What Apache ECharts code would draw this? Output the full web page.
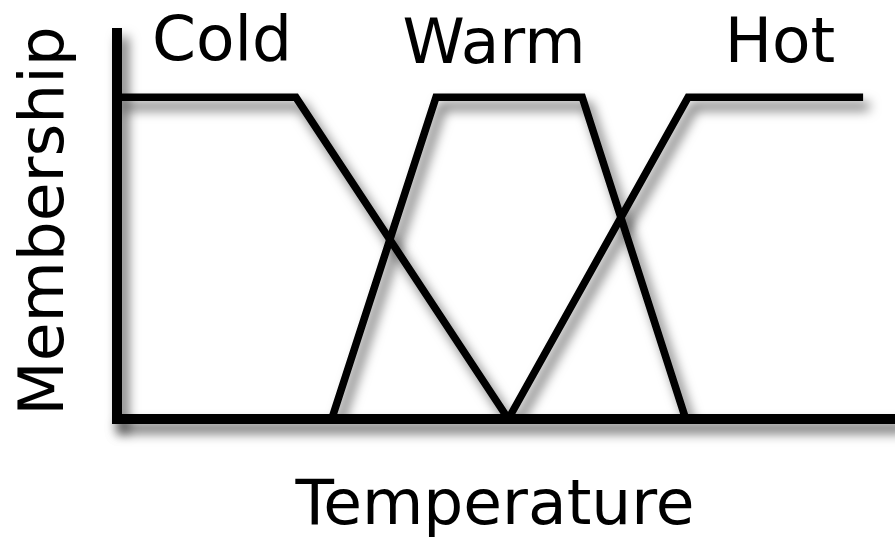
<!DOCTYPE html>
<html>
<head>
<meta charset="utf-8">
<title>Fuzzy temperature membership</title>
<script src="https://cdn.jsdelivr.net/npm/echarts@6/dist/echarts.min.js"></script>
<style>
  html, body { margin: 0; padding: 0; background: #fff; }
  #chart { width: 895px; height: 538px; }
</style>
</head>
<body>
<div id="chart"></div>
<script>
// membership functions, [temperature, membership]
const coldPoints = [[0, 1], [23, 1], [50.3, 0]]
const warmPoints = [[27.6, 0], [41, 1], [59.8, 1], [73.1, 0]]
const hotPoints = [[50.3, 0], [73.4, 1], [95.9, 1]]

const setNames = ['Cold', 'Warm', 'Hot']
const xTitle = 'Temperature'
const yTitle = 'Membership'

const FONT = '63px "DejaVu Sans"'

// shadow used by every stroke
const shadow = {
  shadowColor: 'rgba(0,0,0,0.6)',
  shadowBlur: 12,
  shadowOffsetX: 6,
  shadowOffsetY: 9
}

function curve(name, points) {
  return {
    name: name,
    type: 'line',
    data: points,
    symbol: 'none',
    silent: true,
    animation: false,
    lineStyle: Object.assign({ color: '#000', width: 7.5, join: 'miter', cap: 'butt' }, shadow)
  }
}

const chart = echarts.init(document.getElementById('chart'), null, { renderer: 'canvas' })

chart.setOption({
  backgroundColor: '#fff',
  animation: false,
  grid: { left: 117, right: 0, top: 33, bottom: 119, containLabel: false },
  xAxis: {
    type: 'value',
    min: 0,
    max: 100,
    axisLine: { show: true, onZero: false, lineStyle: Object.assign({ color: '#000', width: 10, cap: 'square' }, shadow) },
    axisTick: { show: false },
    axisLabel: { show: false },
    splitLine: { show: false }
  },
  yAxis: {
    type: 'value',
    min: 0,
    max: 1.2,
    axisLine: { show: true, onZero: false, lineStyle: Object.assign({ color: '#000', width: 10, cap: 'square' }, shadow) },
    axisTick: { show: false },
    axisLabel: { show: false },
    splitLine: { show: false }
  },
  series: [
    curve(setNames[0], coldPoints),
    curve(setNames[1], warmPoints),
    curve(setNames[2], hotPoints)
  ],
  graphic: [
    { type: 'text', x: 222, y: 44, style: { text: setNames[0], font: FONT, fill: '#000', textAlign: 'center', textVerticalAlign: 'middle' } },
    { type: 'text', x: 494, y: 47, style: { text: setNames[1], font: FONT, fill: '#000', textAlign: 'center', textVerticalAlign: 'middle' } },
    { type: 'text', x: 780, y: 46, style: { text: setNames[2], font: FONT, fill: '#000', textAlign: 'center', textVerticalAlign: 'middle' } },
    { type: 'text', x: 495, y: 508, style: { text: xTitle, font: FONT, fill: '#000', textAlign: 'center', textVerticalAlign: 'middle' } },
    { type: 'text', x: 47, y: 221, rotation: Math.PI / 2, style: { text: yTitle, font: FONT, fill: '#000', textAlign: 'center', textVerticalAlign: 'middle' } }
  ]
})
</script>
</body>
</html>
